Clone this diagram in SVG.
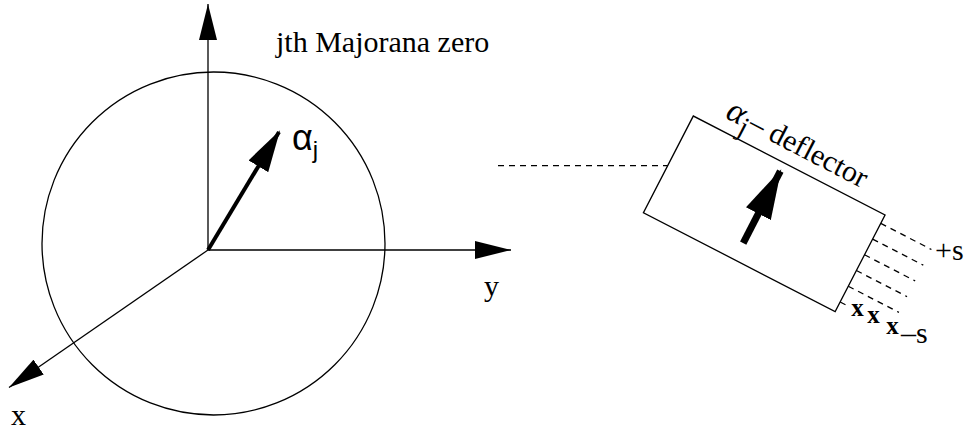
<svg xmlns="http://www.w3.org/2000/svg" width="964" height="431" viewBox="0 0 964 431">
<style>
.thin{fill:none;stroke:#000;stroke-width:1.3}
.dash{fill:none;stroke:#000;stroke-width:1.3;stroke-dasharray:6 5}
.lbl{font-family:"Liberation Serif","Times New Roman",serif;font-size:30px;fill:#000}
.sans{font-family:"Liberation Sans",Arial,sans-serif;fill:#000}
.mark{font-family:"Liberation Serif","Times New Roman",serif;font-weight:bold;font-size:25px;fill:#000;text-anchor:middle}
</style>
<defs>
<marker id="axisHead" markerUnits="userSpaceOnUse" viewBox="0 0 36 18" refX="36" refY="9" markerWidth="36" markerHeight="18" orient="auto">
<path d="M0,0 L36,9 L0,18 z" fill="#000"/>
</marker>
<marker id="alphaHead" markerUnits="userSpaceOnUse" viewBox="0 0 42 23" refX="40" refY="11.5" markerWidth="42" markerHeight="23" orient="auto">
<path d="M0,0 L42,11.5 L0,23 z" fill="#000"/>
</marker>
<marker id="defHead" markerUnits="userSpaceOnUse" viewBox="0 0 50 28" refX="48" refY="14" markerWidth="50" markerHeight="28" orient="auto">
<path d="M0,0 L50,14 L0,28 z" fill="#000"/>
</marker>
</defs>

<g id="sphere">
<circle class="thin" cx="213.5" cy="243.5" r="171.5"/>
</g>

<g id="connectors">
<path id="axis-z" class="thin" d="M208,250 V4" marker-end="url(#axisHead)"/>
<path id="axis-y" class="thin" d="M208,250 H511" marker-end="url(#axisHead)"/>
<path id="axis-x" class="thin" d="M208,250 L9,387.5" marker-end="url(#axisHead)"/>
<path id="alpha-vector" d="M208,250 L279,132" fill="none" stroke="#000" stroke-width="4" marker-end="url(#alphaHead)"/>
<path id="link" class="dash" d="M498,165.7 H668"/>
</g>

<g id="labels">
<text class="lbl" x="276" y="52" font-size="30.5">jth Majorana zero</text>
<text class="lbl" x="484" y="296">y</text>
<text class="lbl" x="11" y="425">x</text>
<text class="sans" x="292" y="150" font-size="36">α<tspan font-size="24" dy="8">j</tspan></text>
</g>

<g id="deflector" transform="translate(693.3,116) rotate(27.3)">
<rect class="thin" x="0" y="0" width="215.8" height="108.8" fill="#fff"/>
<path d="M102.6,90 V9" fill="none" stroke="#000" stroke-width="7" marker-end="url(#defHead)"/>
<text class="lbl" x="28" y="-13" font-size="32"><tspan font-size="34" font-style="italic">α</tspan><tspan dy="9" font-size="28">j</tspan><tspan dy="-9">– deflector</tspan></text>
<g id="beams">
<path class="dash" d="M215.8,9.4 h57 M215.8,27.1 h57 M215.8,44.8 h57 M215.8,62.5 h57 M215.8,80.2 h57 M215.8,97.9 h7"/>
</g>
</g>

<g id="spin-labels">
<text class="mark" x="857.5" y="315.5">x</text>
<text class="mark" x="873.5" y="322.8">x</text>
<text class="mark" x="892.5" y="333.8">x</text>
<text class="lbl" x="935" y="260">+s</text>
<text class="lbl" x="901" y="343">–s</text>
</g>
</svg>
